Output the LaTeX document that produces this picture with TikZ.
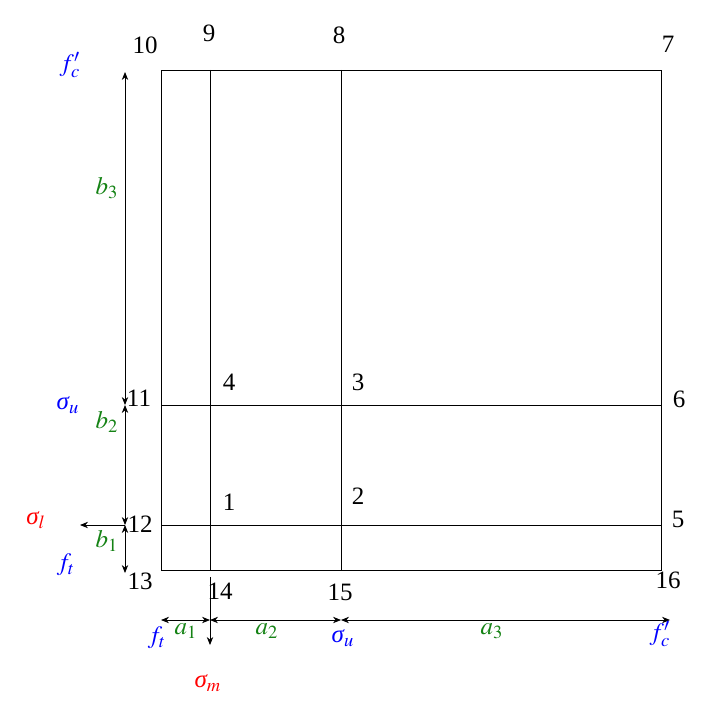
\documentclass[tikz,border=0pt,12pt]{standalone}
\usepackage{mathptmx}
\usepackage{fontspec}
\setmainfont{Liberation Serif}
\usetikzlibrary{positioning,arrows.meta}

\definecolor{dimgreen}{RGB}{20,130,20}
\newcommand{\sig}{\mbox{\itshape σ}}

\begin{document}
\begin{tikzpicture}[x=0.5pt, y=-0.5pt, >={Stealth[length=4pt,width=3.2pt]},
        every node/.style={font=\fontsize{12.5}{15}\selectfont},
        dim/.style={text=dimgreen},
        load/.style={text=blue},
        stress/.style={text=red}]
    \useasboundingbox (0,0) rectangle (712,722);

    % panel corners and strip lines
    \coordinate (c10) at (161,70);
    \coordinate (c16) at (661,570);
    \coordinate (v9) at (210,70);
    \coordinate (v14) at (210,570);
    \coordinate (v8) at (341,70);
    \coordinate (v15) at (341,570);
    \coordinate (h11) at (161,405);
    \coordinate (h6) at (661,405);
    \coordinate (h12) at (161,525);
    \coordinate (h5) at (661,525);

    \draw (c10) rectangle (c16);
    \draw (v9) -- (v14);
    \draw (v8) -- (v15);
    \draw (h11) -- (h6);
    \draw (h12) -- (h5);

    % dimension lines
    \coordinate (d10) at (125,72);
    \coordinate (d11) at (125,405);
    \coordinate (d12) at (125,525);
    \coordinate (d13) at (125,573);
    \coordinate (e13) at (161,620);
    \coordinate (e14) at (210,620);
    \coordinate (e15) at (341,620);
    \coordinate (e16) at (670,620);
    \coordinate (sl) at (80,525);
    \coordinate (sm0) at (210,577);
    \coordinate (sm1) at (210,645);

    \draw[<->] (d11) -- (d10);
    \draw[<->] (d11) -- (d12);
    \draw[<->] (d12) -- (d13);
    \draw[->] (d12) -- (sl);
    \draw[<->] (e13) -- (e14);
    \draw[<->] (e14) -- (e15);
    \draw[<->] (e15) -- (e16);
    \draw[->] (sm0) -- (sm1);

    % point numbers
    \node (n10) at (145,45) {10};
    \node (n9) at (209,33) {9};
    \node (n8) at (339,35) {8};
    \node (n7) at (668,44) {7};
    \node (n11) at (139,398) {11};
    \node (n12) at (140,524) {12};
    \node (n13) at (140,581) {13};
    \node (n14) at (220,591) {14};
    \node (n15) at (340,592) {15};
    \node (n16) at (668,580) {16};
    \node (n6) at (679,399) {6};
    \node (n5) at (678,519) {5};
    \node (n4) at (229,382) {4};
    \node (n3) at (358,382) {3};
    \node (n1) at (229,502) {1};
    \node (n2) at (358,496) {2};

    % strip widths and edge stresses
    \node[load] (fc1) at (70,65) {$f_c'$};
    \node[dim] (b3) at (107,188) {$b_3$};
    \node[load] (su1) at (68,405) {$\sig_u$};
    \node[dim] (b2) at (107,422) {$b_2$};
    \node[stress] (sl1) at (36,520) {$\sig_l$};
    \node[dim] (b1) at (107,541) {$b_1$};
    \node[load] (ft1) at (66,565) {$f_t$};
    \node[load] (ft2) at (157,638) {$f_t$};
    \node[dim] (a1) at (186,631) {$a_1$};
    \node[dim] (a2) at (267,631) {$a_2$};
    \node[load] (su2) at (343,638) {$\sig_u$};
    \node[dim] (a3) at (492,631) {$a_3$};
    \node[load] (fc2) at (660,634) {$f_c'$};
    \node[stress] (sm) at (208,683) {$\sig_m$};
\end{tikzpicture}
\end{document}
